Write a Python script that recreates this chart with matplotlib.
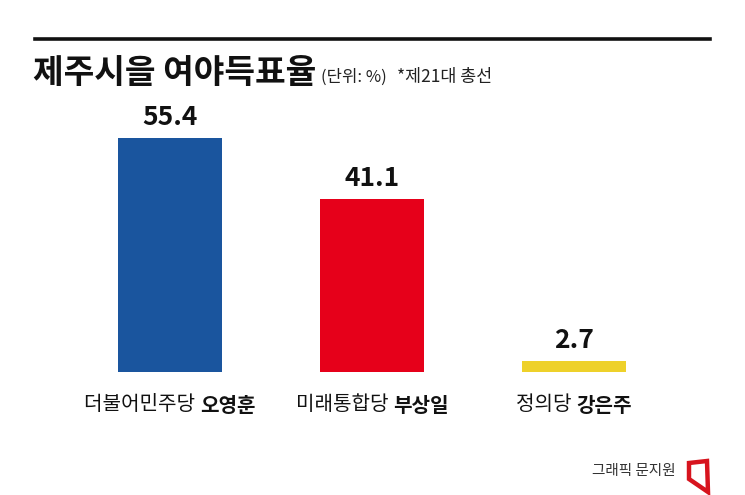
import matplotlib
matplotlib.use("Agg")
import matplotlib.pyplot as plt
from matplotlib.patches import Polygon
from matplotlib.lines import Line2D

parties = ["더불어민주당", "미래통합당", "정의당"]
candidates = ["오영훈", "부상일", "강은주"]
values = [55.4, 41.1, 2.7]
colors = ["#1a559e", "#e6001a", "#eed12a"]

plt.rcParams['font.family'] = ['Noto Sans CJK KR', 'DejaVu Sans']

W, H = 745, 495
fig = plt.figure(figsize=(W / 100, H / 100), dpi=100)

def fx(px):
    return px / W

def fy(py):
    return 1 - py / H

# axes: data x=0 at px 170, 202 px per unit; y baseline px 372
left_px, right_px = 35, 710
top_px, bot_px = 100, 372
ax = fig.add_axes([fx(left_px), fy(bot_px), fx(right_px - left_px), (bot_px - top_px) / H])
ax.set_xlim((left_px - 170) / 202, (right_px - 170) / 202)
ax.set_ylim(0, (bot_px - top_px) / 4.22)
ax.axis('off')

xs = list(range(len(values)))
ax.bar(xs, values, width=0.515, color=colors)

for x, v in zip(xs, values):
    ax.annotate(f"{v}", (x, v), xytext=(0, 5), textcoords='offset points',
                ha='center', va='bottom', fontsize=19, fontweight='bold', color='#111111')

# top rule
fig.add_artist(Line2D([fx(35), fx(710)], [fy(39), fy(39)], color='#111111', lw=2.6))

# title
fig.text(fx(33), fy(73), "제주시을 여야득표율", fontsize=24, fontweight='bold',
         color='#111111', va='center', ha='left')
fig.text(fx(321), fy(77), "(단위: %)", fontsize=12, color='#222222', va='center', ha='left')
fig.text(fx(397), fy(77), "*제21대 총선", fontsize=12.5, color='#222222', va='center', ha='left')

# category labels (regular party + bold candidate), centered under bars
fig.canvas.draw()
renderer = fig.canvas.get_renderer()
label_y = fy(405)
for x, p, c in zip(xs, parties, candidates):
    t1 = fig.text(0, label_y, p + " ", fontsize=14.5, color='#111111', va='center', ha='left')
    t2 = fig.text(0, label_y, c, fontsize=14.5, fontweight='bold', color='#111111', va='center', ha='left')
    w1 = t1.get_window_extent(renderer).width
    w2 = t2.get_window_extent(renderer).width
    cx_px = ax.transData.transform((x, 0))[0]
    start = cx_px - (w1 + w2) / 2
    t1.set_x(start / fig.bbox.width)
    t2.set_x((start + w1) / fig.bbox.width)

# credit + logo
fig.text(fx(675), fy(471), "그래픽 문지원", fontsize=10.5, color='#333333', va='center', ha='right')
logo = Polygon([(fx(689), fy(463)), (fx(707), fy(461)), (fx(708), fy(492)), (fx(689), fy(479))],
               closed=True, fill=False, edgecolor='#d7141e', lw=3.2, joinstyle='miter',
               transform=fig.transFigure)
fig.add_artist(logo)

fig.savefig("out.png", dpi=100, facecolor='white')
